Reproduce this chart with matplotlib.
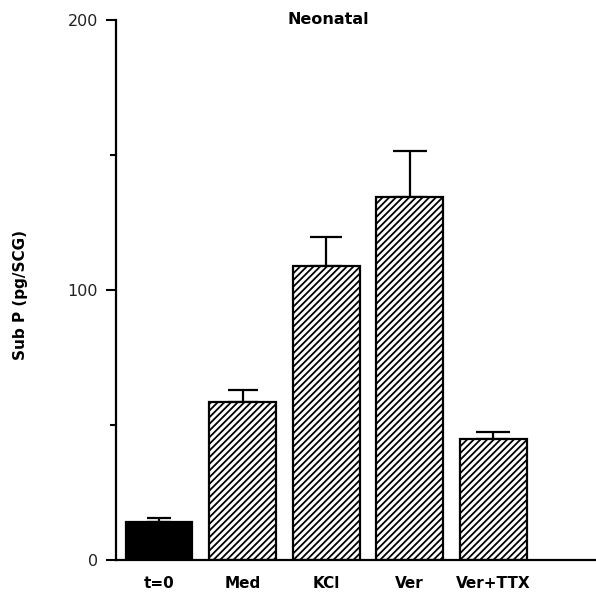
import numpy as np
import matplotlib
matplotlib.use("Agg")
import matplotlib.pyplot as plt
from matplotlib.ticker import FixedLocator

# Substance P content per ganglion, neonatal cultures
groups = ["t=0", "Med", "KCl", "Ver", "Ver+TTX"]
sub_p = [14.0, 58.3, 108.9, 134.2, 44.6]
sem = [1.5, 4.5, 10.6, 17.1, 2.5]

plt.rcParams["font.family"] = ["DejaVu Sans"]
plt.rcParams["hatch.linewidth"] = 1.3
plt.rcParams["hatch.color"] = "black"

fig = plt.figure(figsize=(5.96, 5.94), dpi=100)
ax = fig.add_axes([0.1946, 0.058, 0.8054, 0.9085])

x = np.arange(len(groups))
fills = ["black"] + ["white"] * (len(groups) - 1)
hatches = [None] + ["/////"] * (len(groups) - 1)
caps = [8.5, 11, 11.5, 12, 12]

for i in range(len(groups)):
    ax.bar(x[i], sub_p[i], width=0.8, color=fills[i], edgecolor="black",
           linewidth=1.6, hatch=hatches[i], zorder=2)
    ax.errorbar(x[i], sub_p[i], yerr=[[0], [sem[i]]], fmt="none",
                ecolor="black", elinewidth=1.6, capsize=caps[i],
                capthick=1.6, zorder=1)

ax.set_xlim(-0.515, 5.23)
ax.set_ylim(0, 200)

ax.set_xticks(x)
ax.set_xticklabels(groups, fontsize=11, fontweight="bold")
ax.tick_params(axis="x", length=0, pad=12)

ax.set_yticks([0, 100, 200])
ax.yaxis.set_minor_locator(FixedLocator([50, 150]))
ax.tick_params(axis="y", which="major", length=7, width=1.5,
               labelsize=11.5, pad=6, labelcolor="#222222")
ax.tick_params(axis="y", which="minor", length=4.5, width=1.5)

for side in ["top", "right"]:
    ax.spines[side].set_visible(False)
ax.spines["left"].set_linewidth(1.6)
ax.spines["bottom"].set_linewidth(1.6)

ax.set_ylabel("Sub P (pg/SCG)", fontsize=11, fontweight="bold")
ax.yaxis.set_label_coords(-0.183, 0.49)
ax.text(2.03, 200, "Neonatal", ha="center", va="center",
        fontsize=11.5, fontweight="bold")

fig.savefig("out.png", dpi=100, facecolor="white")
